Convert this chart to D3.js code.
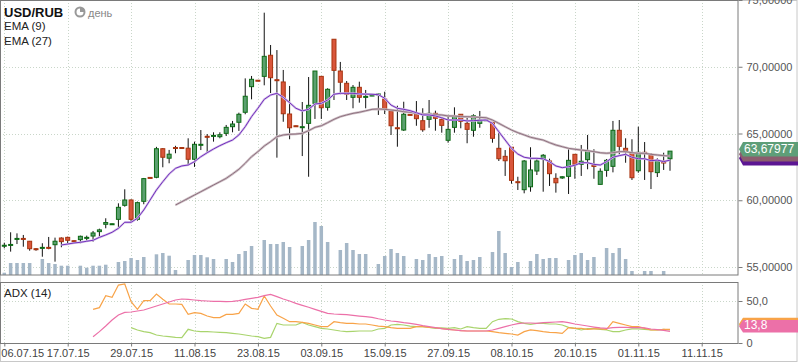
<!DOCTYPE html>
<html>
<head>
<meta charset="utf-8">
<script src="https://cdn.jsdelivr.net/npm/d3@7"></script>
<style>
  body { margin: 0; background: #fff; font-family: Arial, "Liberation Sans", sans-serif; }
  svg { display: block; }
</style>
</head>
<body>
<script>
"use strict";

// x axis labels, one every 10 candles
const dateLabels = ["06.07.15", "17.07.15", "29.07.15", "11.08.15", "23.08.15", "03.09.15",
                    "15.09.15", "27.09.15", "08.10.15", "20.10.15", "01.11.15", "11.11.15"];
const dateIdx = [0, 10, 20, 30, 40, 50, 60, 70, 80, 90, 100, 110];

// daily candles USD/RUB
const open = [56.58,56.64,57.10,57.14,56.93,56.37,56.43,56.47,56.67,57.17,
  57.22,56.97,57.05,57.18,57.32,57.65,58.20,58.20,58.57,59.62,
  60.02,58.57,59.92,61.71,61.72,63.86,63.15,63.95,63.95,63.90,
  63.07,64.13,64.79,64.81,64.76,65.01,65.51,65.84,66.59,68.51,
  68.99,69.28,70.86,69.03,68.86,66.46,65.58,65.47,65.76,67.26,
  69.28,66.96,72.06,69.68,68.76,67.71,68.46,67.74,67.84,67.92,
  67.58,66.69,65.43,65.26,66.43,66.44,65.96,66.06,66.51,66.06,
  64.49,65.46,66.44,65.76,65.24,65.76,65.99,65.84,63.89,63.29,
  63.97,61.39,60.79,61.01,62.19,63.09,62.94,61.64,61.67,61.79,
  63.44,62.69,63.04,62.61,61.19,62.24,62.54,65.24,63.89,63.52,
  62.21,63.59,63.44,62.07,62.94,63.11];
const high = [56.82,57.60,57.52,57.40,56.95,56.42,56.78,57.25,57.20,57.22,
  57.27,57.00,57.35,57.35,57.70,57.87,58.65,58.25,59.77,60.82,
  60.07,59.90,61.67,61.74,64.00,63.90,63.77,64.08,63.97,64.64,
  64.39,65.26,64.96,65.09,65.09,65.64,65.94,66.56,69.13,69.31,
  69.01,74.05,71.63,71.25,69.76,68.56,65.60,67.36,69.23,69.68,
  69.28,68.39,72.06,70.36,68.93,68.63,68.88,68.26,67.90,68.01,
  68.13,66.69,67.08,67.38,66.46,67.43,66.89,67.51,66.71,66.21,
  66.39,66.96,66.44,66.26,66.44,66.69,66.04,65.84,65.21,63.76,
  63.97,61.76,63.01,63.97,63.07,63.46,63.11,62.02,61.80,63.82,
  63.44,64.14,64.89,63.82,62.39,63.09,65.94,66.01,64.64,64.57,
  65.51,64.36,63.52,63.14,63.56,63.68];
const low = [56.40,56.15,56.72,56.52,56.22,56.22,55.77,56.33,55.40,56.48,
  56.72,56.90,56.78,56.97,56.90,57.25,57.90,58.18,57.97,59.52,
  58.32,58.47,59.70,61.66,61.65,62.47,62.77,63.52,63.90,62.57,
  62.50,63.76,63.56,64.39,64.64,64.81,65.09,65.19,66.44,67.56,
  68.94,68.61,68.03,63.19,65.88,64.57,65.53,63.31,61.76,66.09,
  66.09,66.71,67.51,67.94,67.51,66.89,67.31,66.89,67.80,66.39,
  66.46,64.89,64.01,65.19,66.38,65.58,65.13,65.43,65.21,65.06,
  64.31,65.06,65.39,64.27,64.76,65.43,65.96,64.31,62.94,61.82,
  61.24,60.77,60.52,60.64,61.89,60.64,61.07,60.57,61.60,60.47,
  61.61,61.82,62.32,61.61,61.19,61.76,62.09,63.44,62.81,61.52,
  62.06,61.52,60.84,61.74,62.27,62.21];
const close = [56.63,56.69,57.14,57.10,56.37,56.33,56.47,56.43,56.93,56.90,
  57.00,56.93,57.30,57.22,57.55,57.78,58.33,58.24,59.47,60.02,
  58.57,59.82,61.62,61.68,63.86,63.22,63.45,63.91,63.91,63.07,
  64.19,64.19,64.74,64.86,64.91,65.46,65.71,66.44,67.79,69.06,
  68.95,70.78,69.18,68.98,66.48,65.43,65.54,65.51,67.11,69.68,
  66.93,68.31,69.73,68.84,67.94,68.46,67.71,67.78,67.88,67.96,
  66.81,65.58,65.39,66.44,66.39,66.11,65.28,66.51,66.14,65.61,
  65.31,66.33,65.91,65.31,66.33,66.01,66.03,64.64,63.11,62.96,
  61.49,61.35,62.94,62.27,62.94,63.37,61.99,61.31,61.76,62.99,
  62.69,62.92,63.67,62.57,62.17,62.99,65.24,64.04,63.64,61.69,
  63.59,63.49,62.14,62.94,62.79,63.68];
const volume = [2.3,12,12,12,12,0,16,12,11,9.3,
  9.3,0,9.3,7.3,9.3,9.3,10.3,0,13,14,
  17,15,18,0,20.7,22,19.3,5,0,15,
  20,20,17.7,16,0,16,13,21,24,29,
  0,35,31,31,33,28,0,29,35,53,
  49,33,0,25,32,25,21,21,0,11,
  19,26,22,19,0,16,15,21,18,19,
  0,16,20,14,15,18,0,23,44,22,
  8,13,0,14,21,16,17,17,0,15,
  20,22,15,18,0,27,22,27,16,4,
  0,4,4,0,4,0];

// EMA (9) from candle 9, EMA (27) from candle 27
const ema9Start = 9;
const ema9 = [56.65,56.72,56.80,56.85,56.93,57.00,57.22,57.40,57.60,57.90,
  58.35,58.35,58.65,59.27,60.02,60.77,61.39,61.97,62.39,62.57,
  62.64,62.89,63.26,63.56,63.84,64.09,64.31,64.51,64.89,65.51,
  66.26,66.89,67.56,67.88,68.01,67.71,67.31,66.89,66.69,66.81,
  67.21,67.26,67.51,67.94,68.01,68.01,68.01,67.96,67.95,67.94,
  67.91,67.64,67.13,66.89,66.81,66.71,66.56,66.39,66.39,66.31,
  66.18,66.01,66.01,66.01,65.94,65.96,65.99,66.01,65.76,65.13,
  64.51,63.89,63.46,63.22,63.14,63.14,63.11,62.89,62.57,62.44,
  62.51,62.62,62.81,62.81,62.69,62.64,62.89,63.22,63.34,63.44,
  63.22,63.11,63.11,62.96,63.01,62.89,63.01];
const ema27Start = 27;
const ema27 = [59.64,59.89,60.14,
  60.39,60.64,60.89,61.14,61.39,61.64,61.97,62.32,62.77,63.26,
  63.64,64.06,64.39,64.76,64.89,64.94,64.96,65.01,65.21,65.46,
  65.58,65.81,66.06,66.26,66.39,66.51,66.59,66.70,66.81,66.84,
  66.81,66.76,66.71,66.63,66.59,66.51,66.46,66.44,66.41,66.39,
  66.31,66.31,66.26,66.26,66.24,66.21,66.18,66.01,65.76,65.51,
  65.26,65.06,64.89,64.72,64.61,64.51,64.31,64.14,64.01,63.89,
  63.82,63.76,63.71,63.64,63.56,63.52,63.56,63.64,63.64,63.56,
  63.52,63.52,63.44,63.39,63.34,63.31];

// ADX (14) panel
const diStart = 14;
const plusDI = [40.1,42.1,56.3,54.4,69.0,70.2,49.2,40.1,50.4,50.4,
  58.3,52.0,46.4,46.4,46.0,34.1,36.1,35.3,32.1,30.2,
  30.2,34.1,34.1,35.3,46.4,41.3,40.1,56.0,44.0,33.3,
  29.4,25.4,25.4,24.6,23.4,21.4,19.4,19.4,25.4,24.2,
  23.4,23.4,22.6,22.6,21.4,20.2,19.4,18.3,17.5,
  17.5,17.5,19.4,19.4,18.7,18.3,17.1,16.3,15.5,14.7,
  14.3,14.3,14.3,14.3,13.5,12.3,11.5,10.7,9.5,13.5,
  15.5,14.7,13.5,12.7,12.3,11.5,18.3,17.5,17.5,16.3,
  16.7,16.7,16.3,25.4,23.4,21.4,19.4,19.4,17.5,15.5,
  15.5,16.3,16.3];
const adx = [7.5,13.5,20.2,27.4,33.3,36.5,36.9,38.1,39.3,41.7,
  44.0,46.4,48.8,51.2,52.4,52.0,51.2,50.4,50.0,49.6,
  49.6,49.2,49.6,50.4,52.0,53.2,54.4,56.3,57.9,55.2,
  52.4,50.0,47.2,44.8,42.5,40.1,37.7,35.3,34.5,34.1,
  33.7,32.9,32.1,31.3,30.6,28.9,27.4,26.2,25.4,24.2,
  23.4,22.2,20.6,19.4,18.3,17.1,16.3,15.5,14.7,14.3,
  14.3,14.3,14.3,15.5,17.5,19.4,21.4,23.0,23.8,23.8,
  23.4,24.2,24.6,25.0,25.4,24.2,22.6,21.4,20.2,19.0,
  17.9,17.5,18.3,18.7,18.7,18.3,18.3,17.9,16.7,15.9,
  15.1,13.8];
const minusStart = 20;
const minusDI = [18.3,15.5,13.5,12.3,9.5,8.3,7.5,6.7,6.3,16.3,
  14.3,13.5,13.5,13.1,12.7,12.3,11.5,10.7,9.5,8.3,
  7.5,5.6,6.7,23.4,21.4,21.4,21.4,24.6,21.4,19.4,
  17.5,16.7,15.5,14.3,13.5,13.9,14.3,14.3,14.3,16.7,
  17.5,21.4,22.2,21.4,20.2,19.4,19.4,18.7,17.5,17.9,
  17.5,18.3,16.7,19.4,18.3,17.5,17.5,25.4,28.2,29.0,
  28.6,25.4,23.4,22.2,23.4,23.4,22.6,22.6,21.4,18.7,
  17.5,15.5,17.1,17.1,16.3,15.5,13.5,13.5,15.5,16.7,
  16.7,16.3,15.5,15.5,16.3,15.5];

const fmtPrice = d => d3.format(".5f")(d).replace(".", ",");
const fmtAdx = d => d === 0 ? "0" : d3.format(".1f")(d).replace(".", ",");

const W = 798, H = 363;
const plotRight = 738;
const main = { top: 0, bottom: 275 };
const sub = { top: 282, bottom: 343 };

const svg = d3.select("body").append("svg")
  .attr("width", W)
  .attr("height", H)
  .style("font-family", "Arial, 'Liberation Sans', sans-serif");

// scales
const x = d3.scaleLinear().domain([0, 110]).range([4.3, 701.7]);
const y = d3.scaleLinear().domain([55, 75]).range([267, 0]);
const yVol = d3.scaleLinear().domain([0, 60]).range([main.bottom, main.bottom - 60]);
const yAdx = d3.scaleLinear().domain([0, 50]).range([sub.bottom, 301]);

svg.append("rect").attr("x", 0.5).attr("y", 0.5).attr("width", W - 1.5).attr("height", H - 2)
  .attr("fill", "#fff").attr("stroke", "#c8c8c8");

svg.append("defs").append("clipPath").attr("id", "clipMain")
  .append("rect").attr("x", 0).attr("y", 0).attr("width", plotRight).attr("height", main.bottom);

// grid
const grid = svg.append("g")
  .attr("stroke", "#c9d6c9")
  .attr("stroke-dasharray", "1,2");
dateIdx.forEach(i => {
  grid.append("line").attr("x1", Math.round(x(i)) + 0.5).attr("x2", Math.round(x(i)) + 0.5)
    .attr("y1", main.top).attr("y2", main.bottom);
  grid.append("line").attr("x1", Math.round(x(i)) + 0.5).attr("x2", Math.round(x(i)) + 0.5)
    .attr("y1", sub.top).attr("y2", sub.bottom);
});
[55, 60, 65, 70, 75].forEach(v => {
  grid.append("line").attr("x1", 0).attr("x2", plotRight)
    .attr("y1", Math.round(y(v)) + 0.5).attr("y2", Math.round(y(v)) + 0.5);
});
grid.append("line").attr("x1", 0).attr("x2", plotRight)
  .attr("y1", Math.round(yAdx(50)) + 0.5).attr("y2", Math.round(yAdx(50)) + 0.5);

const plot = svg.append("g").attr("clip-path", "url(#clipMain)");
const idx = d3.range(open.length);

// volume
plot.append("g").selectAll("rect")
  .data(idx.filter(i => volume[i] > 0))
  .join("rect")
  .attr("x", i => x(i) - 1.75)
  .attr("width", 3.5)
  .attr("y", i => yVol(volume[i]))
  .attr("height", i => yVol(0) - yVol(volume[i]))
  .attr("fill", "#a5b7c7");

// wicks
plot.append("g").selectAll("line")
  .data(idx)
  .join("line")
  .attr("x1", i => x(i)).attr("x2", i => x(i))
  .attr("y1", i => y(high[i])).attr("y2", i => y(low[i]))
  .attr("stroke", "#111").attr("stroke-width", 1);

// bodies
plot.append("g").selectAll("rect")
  .data(idx)
  .join("rect")
  .attr("x", i => x(i) - 2)
  .attr("width", 4)
  .attr("y", i => y(Math.max(open[i], close[i])))
  .attr("height", i => Math.max(1, Math.abs(y(open[i]) - y(close[i]))))
  .attr("fill", i => close[i] >= open[i] ? "#5ba06f" : "#d9563b")
  .attr("stroke", i => close[i] >= open[i] ? "#0c6a14" : "#a8340f")
  .attr("stroke-width", 1);

// EMA lines
const emaLine = (start) => d3.line().x((d, k) => x(start + k)).y(d => y(d));
plot.append("path").datum(ema27).attr("d", emaLine(ema27Start))
  .attr("fill", "none").attr("stroke", "#cdbfc5").attr("stroke-width", 2.4);
plot.append("path").datum(ema27).attr("d", emaLine(ema27Start))
  .attr("fill", "none").attr("stroke", "#8f7180").attr("stroke-width", 1);
plot.append("path").datum(ema9).attr("d", emaLine(ema9Start))
  .attr("fill", "none").attr("stroke", "#d4bfe8").attr("stroke-width", 2.2);
plot.append("path").datum(ema9).attr("d", emaLine(ema9Start))
  .attr("fill", "none").attr("stroke", "#7230bd").attr("stroke-width", 1);

// ADX lines
const adxLine = (start) => d3.line().x((d, k) => x(start + k)).y(d => yAdx(d));
svg.append("path").datum(minusDI).attr("d", adxLine(minusStart))
  .attr("fill", "none").attr("stroke", "#a9d46d").attr("stroke-width", 1.2);
svg.append("path").datum(plusDI).attr("d", adxLine(diStart))
  .attr("fill", "none").attr("stroke", "#f8a348").attr("stroke-width", 1.2);
svg.append("path").datum(adx).attr("d", adxLine(diStart))
  .attr("fill", "none").attr("stroke", "#ec70a8").attr("stroke-width", 1.2);

// panel frames
svg.append("rect").attr("x", 0.5).attr("y", 0.5).attr("width", plotRight - 0.5).attr("height", main.bottom - 0.5)
  .attr("fill", "none").attr("stroke", "#7a7a7a");
svg.append("rect").attr("x", 0.5).attr("y", sub.top + 0.5).attr("width", plotRight - 0.5).attr("height", sub.bottom - sub.top)
  .attr("fill", "none").attr("stroke", "#7a7a7a");

// axes
function styleAxis(g) {
  g.select(".domain").remove();
  g.selectAll(".tick line").attr("stroke", "#7a7a7a");
  g.selectAll(".tick text").attr("fill", "#555").attr("font-size", 11)
    .attr("font-family", "Arial, 'Liberation Sans', sans-serif");
}
svg.append("g")
  .attr("transform", `translate(${plotRight + 0.5},0)`)
  .call(d3.axisRight(y).tickValues([55, 60, 65, 70, 75]).tickFormat(fmtPrice).tickSize(4).tickPadding(4))
  .call(styleAxis);
svg.append("g")
  .attr("transform", `translate(${plotRight + 0.5},0)`)
  .call(d3.axisRight(yAdx).tickValues([0, 50]).tickFormat(fmtAdx).tickSize(4).tickPadding(4))
  .call(styleAxis);
const xAxis = svg.append("g")
  .attr("transform", `translate(0,${sub.bottom + 0.5})`)
  .call(d3.axisBottom(x).tickValues(dateIdx).tickFormat((d, k) => dateLabels[k]).tickSize(3).tickPadding(3))
  .call(styleAxis);
xAxis.selectAll(".tick text").attr("fill", "#444");
xAxis.selectAll(".tick").filter(d => d === 0).select("text")
  .attr("text-anchor", "start").attr("x", -3.5);

// value labels on the right axis
function valueLabel(yv, top, h, color, text) {
  const t = yv + top;
  svg.append("path")
    .attr("d", `M${plotRight + 1},${t + h / 2} L${plotRight + 5},${t} L${W},${t} L${W},${t + h} L${plotRight + 5},${t + h} Z`)
    .attr("fill", color);
  if (text) {
    svg.append("text").attr("x", plotRight + 6).attr("y", t + h - 3.5)
      .attr("fill", "#fff").attr("font-size", 12).text(text);
  }
}
const last = open.length - 1;
valueLabel(y(ema9[ema9.length - 1]), -9, 14.5, "#5c1693", null);
valueLabel(y(ema27[ema27.length - 1]), -9, 14.5, "#8b5d6e", null);
valueLabel(y(close[last]), -9, 14.5, "#5e9e78", "63,67977");
valueLabel(yAdx(minusDI[minusDI.length - 1]), -11.5, 12.5, "#a9d46d", null);
valueLabel(yAdx(plusDI[plusDI.length - 1]), -11.5, 12.5, "#f8a348", null);
valueLabel(yAdx(adx[adx.length - 1]), -11.5, 12.5, "#ec70a8", "13,8");

// titles
svg.append("text").attr("x", 4).attr("y", 16.5).attr("font-size", 13).attr("font-weight", "bold")
  .attr("fill", "#111").text("USD/RUB");
svg.append("circle").attr("cx", 80).attr("cy", 12).attr("r", 4.5)
  .attr("fill", "none").attr("stroke", "#999").attr("stroke-width", 2);
svg.append("path").attr("d", "M80,12 L80,7.5 A4.5,4.5 0 0 1 84.5,12 Z").attr("fill", "#999");
svg.append("text").attr("x", 88).attr("y", 16.5).attr("font-size", 11).attr("fill", "#888").text("день");
svg.append("text").attr("x", 4).attr("y", 29.5).attr("font-size", 11.5).attr("fill", "#222").text("EMA (9)");
svg.append("text").attr("x", 4).attr("y", 45).attr("font-size", 11.5).attr("fill", "#222").text("EMA (27)");
svg.append("text").attr("x", 4).attr("y", 296.5).attr("font-size", 11.5).attr("fill", "#222").text("ADX (14)");
</script>
</body>
</html>
